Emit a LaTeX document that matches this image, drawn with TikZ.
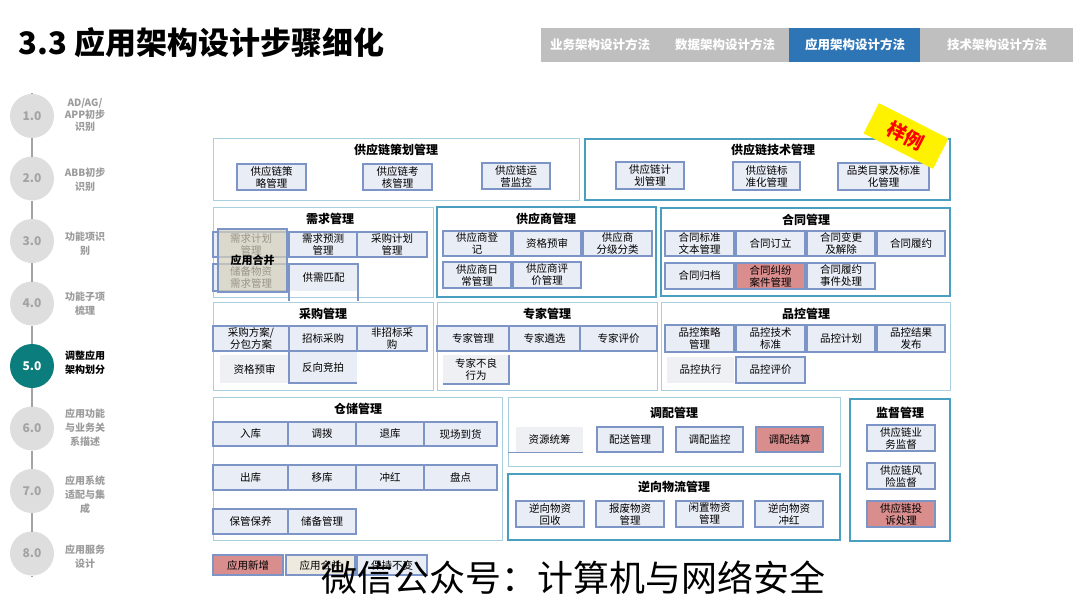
\documentclass[tikz,border=0pt]{standalone}
\usepackage{fontspec}
\setmainfont{Noto Sans CJK SC}
\definecolor{grpthin}{HTML}{A8CFDD}
\definecolor{grpthick}{HTML}{4A9FC0}
\definecolor{sbline}{HTML}{7D94C6}
\definecolor{sbfill}{HTML}{E9EDF6}
\definecolor{redfill}{HTML}{D98D8D}
\definecolor{beige}{HTML}{D6D0BC}
\definecolor{beigelt}{HTML}{EEEAE0}
\definecolor{flatfill}{HTML}{EEF0F4}
\definecolor{tabgray}{HTML}{BFBFBF}
\definecolor{tabblue}{HTML}{2E75B6}
\definecolor{circgray}{HTML}{DEDEDE}
\definecolor{numgray}{HTML}{A3A3A3}
\definecolor{labgray}{HTML}{9C9C9C}
\definecolor{teal5}{HTML}{0B7D7C}
\newcommand\bx[7]{\node[#6, minimum width={(#4-#2)*1pt}, minimum height={(#5-#3)*1pt}] (#1) at ({(#2+#4)/2},{(#3+#5)/2}) {#7};}
\begin{document}
\begin{tikzpicture}[x=1pt,y=-1pt,
  every node/.style={inner sep=0pt, outer sep=0pt},
  grp/.style={draw=grpthin, line width=1pt, fill=white},
  grpT/.style={draw=grpthick, line width=2pt, fill=white},
  gt/.style={font=\bfseries\fontsize{12}{14}\selectfont},
  sb/.style={draw=sbline, fill=sbfill, line width=1.2pt, align=center, font=\fontsize{10.5}{12}\selectfont},
  sbr/.style={sb, fill=redfill},
  flat/.style={fill=flatfill, align=center, font=\fontsize{10.5}{12}\selectfont},
  sbl/.style={draw=sbline, line width=1.2pt},
  ov/.style={draw=sbline, line width=1.2pt, fill=beige, fill opacity=0.72, text opacity=1, font=\bfseries\fontsize{11}{13}\selectfont},
  tab/.style={font=\bfseries\fontsize{12.5}{14}\selectfont, text=white},
  circ/.style={circle, fill=circgray, minimum size=44pt, text=numgray, font=\bfseries\fontsize{12}{14}\selectfont},
  tlab/.style={align=center, text=labgray, font=\bfseries\fontsize{10}{14}\selectfont},
  tl/.style={draw=numgray, line width=1.6pt}]
\useasboundingbox[fill=white] (0,0) rectangle (1080,608);

% title
\node[anchor=west, font=\bfseries\fontsize{31}{34}\selectfont] (title) at (19,43) {3.3 应用架构设计步骤细化};

% tabs
\bx{tabbar}{541}{28}{1073}{62}{fill=tabgray}{}
\bx{tabsel}{789}{28}{920}{62}{fill=tabblue}{}
\node[tab] (tab1) at (600,45) {业务架构设计方法};
\node[tab] (tab2) at (725,45) {数据架构设计方法};
\node[tab] (tab3) at (855,45) {应用架构设计方法};
\node[tab] (tab4) at (997,45) {技术架构设计方法};

% timeline
\coordinate (tltop) at (32,93);
\coordinate (tlbot) at (32,577);
\node[circ] (c1) at (32,116) {1.0};
\node[circ] (c2) at (32,178.5) {2.0};
\node[circ] (c3) at (32,241) {3.0};
\node[circ] (c4) at (32,303.5) {4.0};
\node[circ, fill=teal5, text=white] (c5) at (32,366) {5.0};
\node[circ] (c6) at (32,428.5) {6.0};
\node[circ] (c7) at (32,491) {7.0};
\node[circ] (c8) at (32,553.5) {8.0};
\draw[tl] (tltop) -- (c1) (c1) -- (c2) (c2) -- (c3) (c3) -- (c4) (c4) -- (c5) (c5) -- (c6) (c6) -- (c7) (c7) -- (c8) (c8) -- (tlbot);
\node[tlab, font=\bfseries\fontsize{10}{12}\selectfont] (l1) at (85,115) {AD/AG/\\APP初步\\识别};
\node[tlab] (l2) at (85,180) {ABB初步\\识别};
\node[tlab] (l3) at (85,244) {功能项识\\别};
\node[tlab] (l4) at (85,304) {功能子项\\梳理};
\node[tlab, text=black] (l5) at (85,363) {调整应用\\架构划分};
\node[tlab] (l6) at (85,428) {应用功能\\与业务关\\系描述};
\node[tlab] (l7) at (85,495) {应用系统\\适配与集\\成};
\node[tlab] (l8) at (85,557) {应用服务\\设计};

% 供应链策划管理
\bx{g1}{213}{138}{579}{200}{grp}{}
\node[gt] (g1t) at (396,150) {供应链策划管理};
\bx{s11}{237}{164}{306}{190}{sb}{供应链策\\略管理}
\bx{s12}{363}{164}{432}{190}{sb}{供应链考\\核管理}
\bx{s13}{482}{163}{550}{189}{sb}{供应链运\\营监控}

% 供应链技术管理
\bx{g2}{585}{139}{950}{200}{grpT}{}
\node[gt] (g2t) at (773,150) {供应链技术管理};
\bx{s21}{616}{162}{684}{189}{sb}{供应链计\\划管理}
\bx{s22}{733}{162}{800}{190}{sb}{供应链标\\准化管理}
\bx{s23}{838}{163}{929}{190}{sb}{品类目录及标准\\化管理}

% 需求管理
\bx{g3}{213}{207}{433}{297}{grp}{}
\node[gt] (g3t) at (330,219) {需求管理};
\bx{s31}{213}{232}{289}{257}{sb}{需求计划\\管理}
\bx{s32}{289}{232}{357}{257}{sb}{需求预测\\管理}
\bx{s33}{357}{232}{427}{257}{sb}{采购计划\\管理}
\bx{s34}{213}{264}{289}{291}{sb}{储备物资\\需求管理}
\bx{s35}{289}{264}{358}{291}{flat, fill=sbfill}{供需匹配}
\coordinate (s35a) at (289,301);
\coordinate (s35b) at (358,301);
\draw[sbl] (s35a) -- (s35.north west) -- (s35.north east) -- (s35b);
\bx{ov}{218}{229}{287}{292}{ov}{应用合并}

% 采购管理
\bx{g4}{213}{302}{433}{390}{grp}{}
\node[gt] (g4t) at (323,314) {采购管理};
\bx{s41}{213}{326}{289}{351}{sb}{采购方案/\\分包方案}
\bx{s42}{289}{326}{357}{351}{sb}{招标采购}
\bx{s43}{357}{326}{427}{351}{sb}{非招标采\\购}
\bx{s44}{220}{355}{289}{383}{flat}{资格预审}
\bx{s45}{289}{352}{357}{383}{flat, fill=sbfill}{反向竞拍}
\draw[sbl] (s45.north west) -- (s45.south west) -- (s45.south east);

% 供应商管理
\bx{g5}{437}{207}{656}{297}{grpT}{}
\node[gt] (g5t) at (546,219) {供应商管理};
\bx{s51}{443}{231}{511}{256}{sb}{供应商登\\记}
\bx{s52}{513}{231}{581}{256}{sb}{资格预审}
\bx{s53}{583}{231}{652}{256}{sb}{供应商\\分级分类}
\bx{s54}{443}{262}{511}{288}{sb}{供应商日\\常管理}
\bx{s55}{513}{262}{581}{288}{sb}{供应商评\\价管理}

% 专家管理
\bx{g6}{437}{302}{657}{390}{grp}{}
\node[gt] (g6t) at (547,314) {专家管理};
\bx{s61}{437}{326}{509}{351}{sb}{专家管理}
\bx{s62}{509}{326}{580}{351}{sb}{专家遴选}
\bx{s63}{580}{326}{657}{351}{sb}{专家评价}
\bx{s64}{443}{355}{509}{384}{flat}{专家不良\\行为}
\draw[sbl] (s64.north east) -- (s64.south east) -- (s64.south west);

% 合同管理
\bx{g7}{661}{208}{950}{296}{grpT}{}
\node[gt] (g7t) at (806,220) {合同管理};
\bx{s71}{665}{231}{734}{256}{sb}{合同标准\\文本管理}
\bx{s72}{736}{231}{805}{256}{sb}{合同订立}
\bx{s73}{807}{231}{875}{256}{sb}{合同变更\\及解除}
\bx{s74}{877}{231}{945}{256}{sb}{合同履约}
\bx{s75}{665}{263}{734}{289}{sb}{合同归档}
\bx{s76}{736}{263}{805}{289}{sbr}{合同纠纷\\案件管理}
\bx{s77}{807}{263}{875}{289}{sb}{合同履约\\事件处理}

% 品控管理
\bx{g8}{661}{302}{950}{390}{grp}{}
\node[gt] (g8t) at (806,314) {品控管理};
\bx{s81}{665}{325}{734}{352}{sb}{品控策略\\管理}
\bx{s82}{736}{325}{805}{352}{sb}{品控技术\\标准}
\bx{s83}{807}{325}{875}{352}{sb}{品控计划}
\bx{s84}{877}{325}{945}{352}{sb}{品控结果\\发布}
\bx{s85}{667}{357}{734}{383}{flat}{品控执行}
\bx{s86}{736}{357}{805}{383}{sb}{品控评价}

% 仓储管理
\bx{g9}{213}{397}{502}{540}{grp}{}
\node[gt] (g9t) at (358,409) {仓储管理};
\bx{w11}{213}{422}{288}{446}{sb}{入库}
\bx{w12}{288}{422}{356}{446}{sb}{调拨}
\bx{w13}{356}{422}{424}{446}{sb}{退库}
\bx{w14}{424}{422}{497}{446}{sb}{现场到货}
\bx{w21}{213}{465}{288}{490}{sb}{出库}
\bx{w22}{288}{465}{356}{490}{sb}{移库}
\bx{w23}{356}{465}{424}{490}{sb}{冲红}
\bx{w24}{424}{465}{497}{490}{sb}{盘点}
\bx{w31}{213}{509}{288}{534}{sb}{保管保养}
\bx{w32}{288}{509}{356}{534}{sb}{储备管理}

% 调配管理
\bx{g10}{508}{397}{840}{466}{grp}{}
\node[gt] (g10t) at (674,413) {调配管理};
\bx{d1}{516}{427}{583}{452}{flat}{资源统筹}
\coordinate (d1a) at (508,452);
\draw[sbl, line width=0.8pt] (d1a) -- (d1.south east);
\bx{d2}{597}{427}{663}{452}{sb}{配送管理}
\bx{d3}{676}{427}{743}{452}{sb}{调配监控}
\bx{d4}{756}{427}{823}{452}{sbr}{调配结算}

% 逆向物流管理
\bx{g11}{508}{474}{840}{540}{grpT}{}
\node[gt] (g11t) at (674,487) {逆向物流管理};
\bx{r1}{516}{501}{584}{527}{sb}{逆向物资\\回收}
\bx{r2}{596}{501}{664}{527}{sb}{报废物资\\管理}
\bx{r3}{676}{501}{743}{527}{sb}{闲置物资\\管理}
\bx{r4}{755}{501}{823}{527}{sb}{逆向物资\\冲红}

% 监督管理
\bx{g12}{850}{399}{950}{541}{grpT}{}
\node[gt] (g12t) at (900,413) {监督管理};
\bx{m1}{867}{425}{935}{451}{sb}{供应链业\\务监督}
\bx{m2}{867}{463}{935}{489}{sb}{供应链风\\险监督}
\bx{m3}{867}{501}{935}{527}{sbr}{供应链投\\诉处理}

% legend
\bx{lg1}{213}{555}{283}{575}{sbr}{应用新增}
\bx{lg2}{286}{555}{355}{575}{sb, fill=beigelt}{应用合并}
\bx{lg3}{357}{555}{427}{575}{sb}{保持不变}

% stamp
\node[fill=yellow, rotate=-27, minimum width=78pt, minimum height=34pt, text=red, font=\bfseries\fontsize{19}{20}\selectfont] (stamp) at (906,136) {样例};

% watermark
\node[font=\fontsize{36}{40}\selectfont] (wm) at (573,578) {微信公众号：计算机与网络安全};
\end{tikzpicture}
\end{document}
